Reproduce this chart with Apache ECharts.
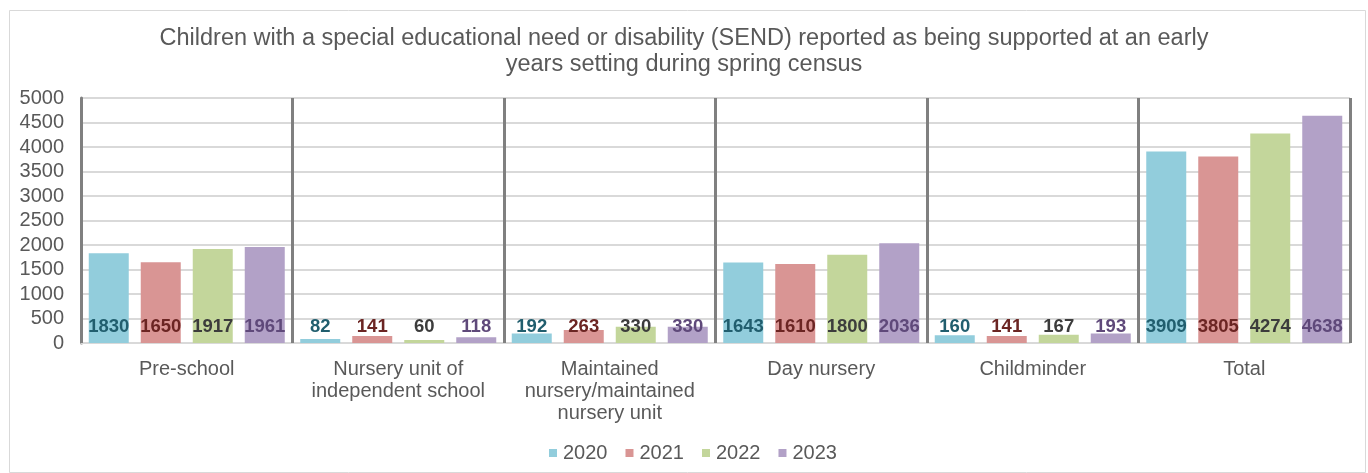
<!DOCTYPE html>
<html>
<head>
<meta charset="utf-8">
<script src="https://cdn.jsdelivr.net/npm/echarts@6/dist/echarts.min.js"></script>
<style>
html,body{margin:0;padding:0;background:#fff;}
#chart{width:1368px;height:473px;}
</style>
</head>
<body>
<div id="chart"></div>
<script>
const titleText = 'Children with a special educational need or disability (SEND) reported as being supported at an early\nyears setting during spring census';
const categories = ['Pre-school', 'Nursery unit of\nindependent school', 'Maintained\nnursery/maintained\nnursery unit', 'Day nursery', 'Childminder', 'Total'];
const seriesNames = ['2020', '2021', '2022', '2023'];
const values2020 = [1830, 82, 192, 1643, 160, 3909];
const values2021 = [1650, 141, 263, 1610, 141, 3805];
const values2022 = [1917, 60, 330, 1800, 167, 4274];
const values2023 = [1961, 118, 330, 2036, 193, 4638];
const yTicks = {min: 0, max: 5000, interval: 500};

const barColors = ['#92CDDC', '#D99594', '#C3D69B', '#B2A1C7'];
const labelColors = ['#215E6E', '#6B2523', '#3C3C3C', '#5F497A'];
const allValues = [values2020, values2021, values2022, values2023];
const FONT = '"Liberation Sans", Arial, sans-serif';

const chart = echarts.init(document.getElementById('chart'), null, {renderer: 'canvas'});
chart.setOption({
  animation: false,
  backgroundColor: '#ffffff',
  textStyle: {fontFamily: FONT},
  graphic: [{
    type: 'rect', left: 7, top: 8, z: -1,
    shape: {width: 1356, height: 462},
    style: {fill: 'none', stroke: '#d9d9d9', lineWidth: 1}
  }],
  title: {
    text: titleText,
    left: 'center', top: 21,
    textStyle: {fontFamily: FONT, fontSize: 23.5, fontWeight: 'normal', color: '#595959', lineHeight: 26}
  },
  legend: {
    data: seriesNames,
    bottom: 5, left: 544,
    icon: 'rect', itemWidth: 8, itemHeight: 8, itemGap: 18,
    textStyle: {fontFamily: FONT, fontSize: 20, color: '#595959', padding: [0, 0, 0, 1]}
  },
  grid: {left: 81, right: 18, top: 98, bottom: 130, containLabel: false},
  xAxis: {
    type: 'category',
    data: categories,
    axisLine: {show: true, lineStyle: {color: '#d9d9d9', width: 1}},
    axisTick: {show: false},
    splitLine: {show: true, interval: 0, lineStyle: {color: '#808080', width: 3}},
    axisLabel: {interval: 0, fontFamily: FONT, fontSize: 20, color: '#595959', lineHeight: 22, margin: 15}
  },
  yAxis: {
    type: 'value',
    min: yTicks.min, max: yTicks.max, interval: yTicks.interval,
    axisLine: {show: true, lineStyle: {color: '#808080', width: 3}},
    axisTick: {show: false},
    splitLine: {show: true, lineStyle: {color: '#d9d9d9', width: 2}},
    axisLabel: {fontFamily: FONT, fontSize: 20, color: '#595959', margin: 17, formatter: v => String(v)}
  },
  series: seriesNames.map((name, i) => ({
    name: name,
    type: 'bar',
    data: allValues[i],
    barWidth: 40,
    barGap: '30%',
    itemStyle: {color: barColors[i]},
    label: {
      show: true,
      position: 'insideBottom',
      distance: 7,
      fontFamily: FONT,
      fontSize: 18.5,
      fontWeight: 'bold',
      color: labelColors[i]
    }
  }))
});
</script>
</body>
</html>
